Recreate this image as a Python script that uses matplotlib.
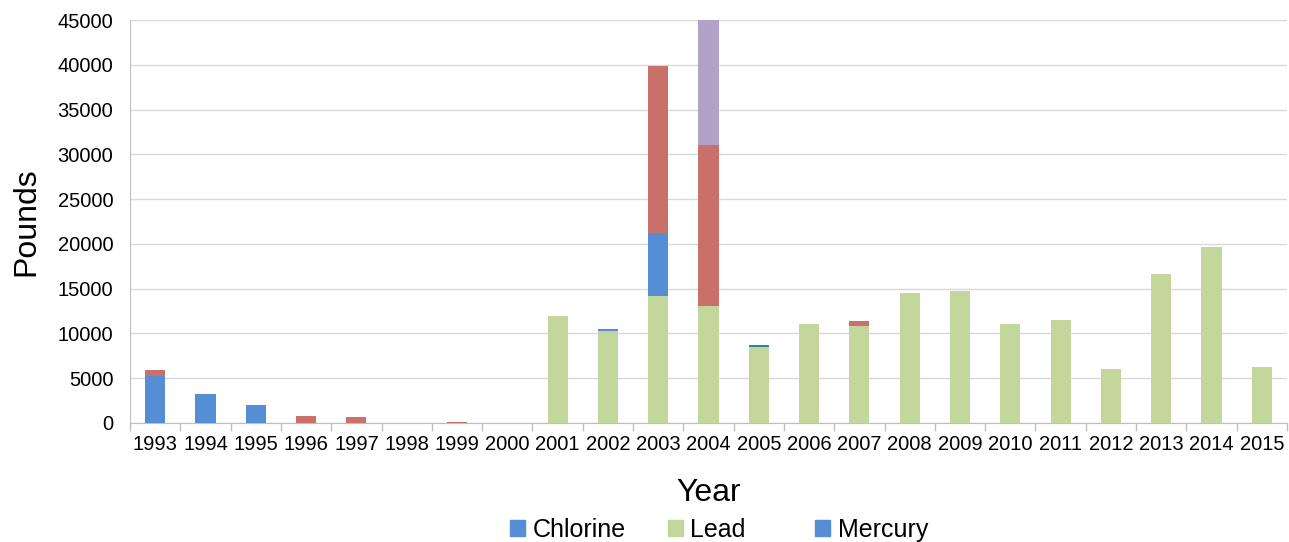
import numpy as np
import matplotlib
matplotlib.use("Agg")
import matplotlib.pyplot as plt
from matplotlib.patches import Patch

plt.rcParams['font.family'] = ['Liberation Sans', 'DejaVu Sans']

# Pounds released per year, by chemical
years = list(range(1993, 2016))
chlorine = [5300, 3200, 2000, 0, 0, 0, 0, 0, 0, 0, 0, 0, 0, 0, 0, 0, 0, 0, 0, 0, 0, 0, 0]
lead = [0, 0, 0, 0, 0, 0, 0, 0, 12000, 10300, 14200, 13100, 8500, 11100, 10850,
        14500, 14750, 11050, 11500, 6050, 16600, 19650, 6250]
mercury = [0, 0, 0, 0, 0, 0, 0, 0, 0, 200, 7000, 0, 0, 0, 0, 0, 0, 0, 0, 0, 0, 0, 0]
# series whose legend entries fall below the visible area
other_red = [600, 0, 0, 780, 700, 0, 150, 0, 0, 0, 18650, 17950, 0, 0, 570,
             0, 0, 0, 0, 0, 0, 0, 0]
other_purple = [0, 0, 0, 0, 0, 0, 0, 0, 0, 0, 0, 15000, 0, 0, 0, 0, 0, 0, 0, 0, 0, 0, 0]
other_teal = [0, 0, 0, 0, 0, 0, 0, 0, 0, 0, 0, 0, 200, 0, 0, 0, 0, 0, 0, 0, 0, 0, 0]

series = [
    ('Chlorine', chlorine, '#558ED5'),
    ('Lead', lead, '#C3D69B'),
    ('Mercury', mercury, '#558ED5'),
    (None, other_red, '#C9706B'),
    (None, other_purple, '#B3A2C7'),
    (None, other_teal, '#31859C'),
]

fig = plt.figure(figsize=(12.89, 5.42), dpi=100)
ax = fig.add_axes([0.1009, 0.2196, 0.8975, 0.7434])

x = np.arange(len(years))
bottom = np.zeros(len(years))
for name, vals, color in series:
    vals = np.array(vals, dtype=float)
    ax.bar(x, vals, width=0.4, bottom=bottom, color=color, zorder=3)
    bottom += vals

ax.set_xlim(-0.5, len(years) - 0.5)
ax.set_ylim(0, 45000)
ax.set_yticks(np.arange(0, 45001, 5000))
ax.tick_params(axis='y', length=0, labelsize=14.5, pad=12)
ax.yaxis.grid(True, color='#D9D9D9', linewidth=1, zorder=0)

# category labels at centres, tick marks at category boundaries
ax.set_xticks(x)
ax.set_xticklabels([str(y) for y in years], fontsize=14.5)
ax.tick_params(axis='x', which='major', length=0, pad=9)
ax.set_xticks(np.arange(-0.5, len(years), 1), minor=True)
ax.tick_params(axis='x', which='minor', length=6, color='#BFBFBF', width=1)

for s in ['top', 'right']:
    ax.spines[s].set_visible(False)
ax.spines['left'].set_color('#BFBFBF')
ax.spines['bottom'].set_color('#BFBFBF')

ax.set_ylabel('Pounds', fontsize=23, labelpad=12)
ax.set_xlabel('Year', fontsize=23, labelpad=17)

# one legend entry per visible slot, like the spreadsheet legend
legend_x = [0.3957, 0.5182, 0.6323]
shown = [(n, c) for n, v, c in series if n]
for (name, color), lx in zip(shown, legend_x):
    fig.legend(handles=[Patch(color=color, label=name)], loc='lower left',
               bbox_to_anchor=(lx, 0.0), frameon=False, fontsize=18,
               handlelength=0.6, handleheight=0.6, handletextpad=0.3,
               borderpad=0, borderaxespad=0)

fig.savefig('out.png', dpi=100)
